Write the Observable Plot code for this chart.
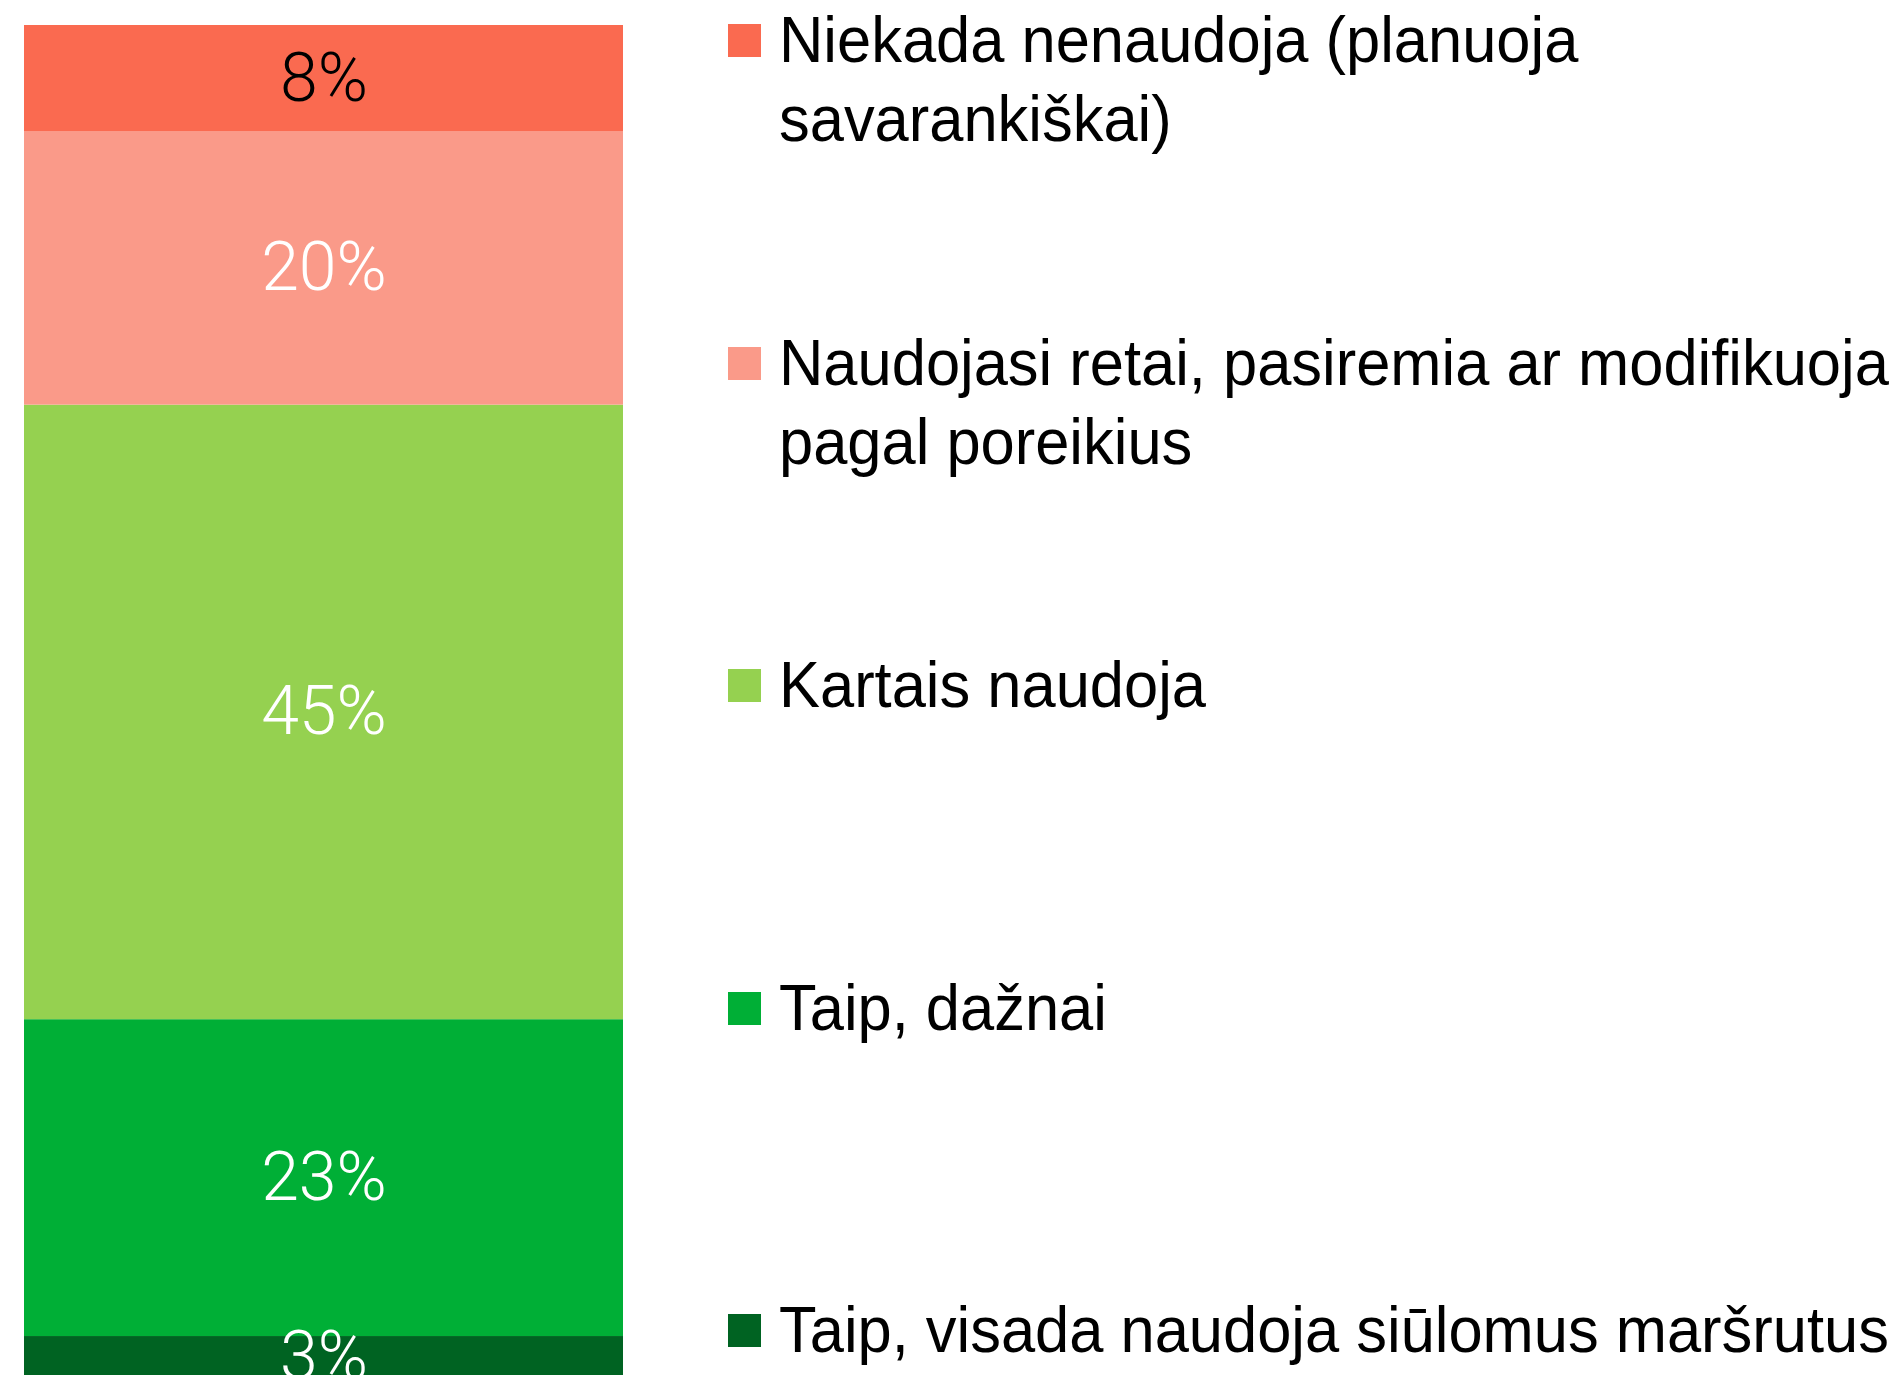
<!DOCTYPE html>
<html>
<head>
<meta charset="utf-8">
<script src="https://cdn.jsdelivr.net/npm/d3@7"></script>
<script src="https://cdn.jsdelivr.net/npm/@observablehq/plot@0.6"></script>
<style>
  html, body { margin: 0; padding: 0; background: #fff; overflow: hidden; }
  #wrap { position: relative; width: 1900px; height: 1375px; overflow: hidden; }
  #chart { position: absolute; left: 0; top: 0; }
  #legend { position: absolute; left: 728px; top: 0; width: 1172px; height: 1375px;
    font-family: "Liberation Sans", Arial, sans-serif; font-size: 64px; color: #000; }
  .item { position: absolute; left: 0; width: 1600px; }
  .sw { position: absolute; left: 0; top: 23px; width: 33px; height: 33px; }
  .lbl { position: absolute; left: 51px; top: 0; line-height: 79px; width: 1180px;
    transform: scaleX(0.96); transform-origin: 0 0; }
</style>
</head>
<body>
<div id="wrap">
  <div id="chart"></div>
  <div id="legend"></div>
</div>
<script>
// Categories from top of the bar to bottom (legend order)
const categories = [
  "Niekada nenaudoja (planuoja savarankiškai)",
  "Naudojasi retai, pasiremia ar modifikuoja pagal poreikius",
  "Kartais naudoja",
  "Taip, dažnai",
  "Taip, visada naudoja siūlomus maršrutus"
];
const shares = [7.8, 20, 45, 23.2, 3];
const colors = ["#fa6a50", "#fa9a89", "#95d150", "#00af36", "#006322"];
const darkLabelCategory = categories[0];

// stacked bottom-up: reverse so the last category sits at the bottom
const data = categories.map((c, i) => ({cat: c, share: shares[i], group: "all"})).reverse();
const fmt = v => `${Math.round(v)}%`;
const labelFont = {fontSize: 68, fontWeight: 300, fontFamily: "Roboto, 'Helvetica Neue', sans-serif"};

const chart = Plot.plot({
  width: 660,
  height: 1375,
  marginLeft: 0, marginRight: 0, marginTop: 0, marginBottom: 0,
  x: {domain: ["all"], range: [24, 623], padding: 0, axis: null},
  y: {domain: [0, 99], range: [1377, 25], axis: null},
  color: {domain: categories, range: colors},
  style: {background: "white"},
  marks: [
    Plot.barY(data, Plot.stackY({x: "group", y: "share", fill: "cat", order: null})),
    Plot.text(data, Plot.stackY({x: "group", y: "share", order: null,
      text: d => d.cat === darkLabelCategory ? fmt(d.share) : "",
      fill: "black", ...labelFont})),
    Plot.text(data, Plot.stackY({x: "group", y: "share", order: null,
      text: d => d.cat !== darkLabelCategory ? fmt(d.share) : "",
      fill: "white", ...labelFont}))
  ]
});
document.getElementById("chart").appendChild(chart);

// Legend (right side)
const legend = document.getElementById("legend");
const spacing = 322.5;
categories.forEach((c, i) => {
  const item = document.createElement("div");
  item.className = "item";
  item.style.top = (1 + i * spacing) + "px";
  const sw = document.createElement("div");
  sw.className = "sw";
  sw.style.background = colors[i];
  const lbl = document.createElement("div");
  lbl.className = "lbl";
  lbl.textContent = c;
  item.appendChild(sw);
  item.appendChild(lbl);
  legend.appendChild(item);
});
</script>
</body>
</html>
